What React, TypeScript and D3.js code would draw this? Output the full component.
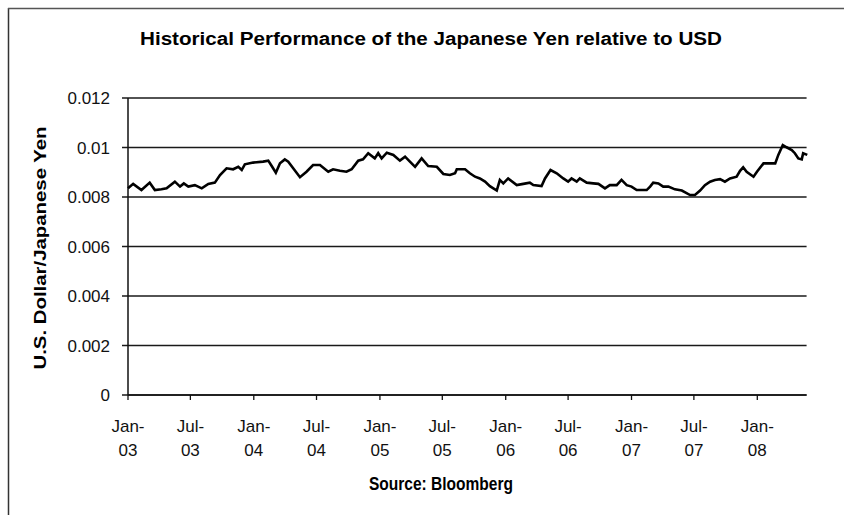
import React from "react";
import * as d3 from "d3";

const dates: string[] = [
  "2003-01-01","2003-01-16","2003-02-09","2003-03-05","2003-03-20","2003-04-08","2003-04-23","2003-05-17","2003-06-01","2003-06-12",
  "2003-06-25","2003-07-14","2003-08-03","2003-08-22","2003-09-10","2003-09-25","2003-10-14","2003-11-02","2003-11-17","2003-11-27",
  "2003-12-06","2003-12-30","2004-01-28","2004-02-12","2004-02-22","2004-03-05","2004-03-17","2004-03-31","2004-04-10","2004-05-14",
  "2004-06-02","2004-06-21","2004-07-11","2004-08-04","2004-08-18","2004-09-07","2004-09-26","2004-10-11","2004-10-30","2004-11-13",
  "2004-11-28","2004-12-17","2004-12-27","2005-01-06","2005-01-21","2005-02-09","2005-02-28","2005-03-15","2005-03-29","2005-04-13",
  "2005-05-02","2005-05-21","2005-06-15","2005-07-04","2005-07-23","2005-08-07","2005-08-12","2005-09-05","2005-09-19","2005-10-04",
  "2005-10-18","2005-11-02","2005-11-16","2005-12-06","2005-12-15","2005-12-25","2006-01-08","2006-02-02","2006-02-21","2006-03-12",
  "2006-03-22","2006-04-15","2006-04-25","2006-05-11","2006-05-29","2006-06-17","2006-07-01","2006-07-11","2006-07-26","2006-08-04",
  "2006-08-24","2006-09-12","2006-09-27","2006-10-16","2006-10-30","2006-11-19","2006-12-03","2006-12-18","2007-01-01","2007-01-16",
  "2007-02-14","2007-02-24","2007-03-05","2007-03-20","2007-04-03","2007-04-18","2007-05-07","2007-05-27","2007-06-20","2007-07-04",
  "2007-07-19","2007-08-02","2007-08-17","2007-08-31","2007-09-15","2007-09-29","2007-10-14","2007-11-02","2007-11-12","2007-11-21",
  "2007-12-01","2007-12-21","2007-12-31","2008-01-19","2008-02-08","2008-02-22","2008-03-02","2008-03-15","2008-03-26","2008-04-10",
  "2008-04-19","2008-04-29","2008-05-09","2008-05-13","2008-05-25"
];

const values: number[] = [
  0.00835,0.00853,0.00828,0.00858,0.00828,0.00831,0.00835,0.00862,0.00842,0.00855,
  0.00842,0.00848,0.00835,0.00853,0.00858,0.00889,0.00916,0.00912,0.00922,0.00909,
  0.00932,0.00939,0.00943,0.00947,0.00925,0.00898,0.00936,0.00952,0.00943,0.00880,
  0.00902,0.00929,0.00929,0.00902,0.00912,0.00906,0.00902,0.00912,0.00947,0.00952,
  0.00977,0.00956,0.00977,0.00956,0.00979,0.00970,0.00947,0.00963,0.00943,0.00922,
  0.00956,0.00925,0.00922,0.00893,0.00889,0.00896,0.00912,0.00912,0.00896,0.00882,
  0.00875,0.00862,0.00844,0.00826,0.00869,0.00855,0.00875,0.00848,0.00853,0.00858,
  0.00848,0.00844,0.00875,0.00909,0.00896,0.00875,0.00862,0.00875,0.00862,0.00875,
  0.00858,0.00855,0.00853,0.00835,0.00848,0.00848,0.00869,0.00848,0.00842,0.00828,
  0.00828,0.00842,0.00858,0.00855,0.00842,0.00842,0.00831,0.00826,0.00808,0.00808,
  0.00826,0.00848,0.00862,0.00869,0.00872,0.00862,0.00875,0.00882,0.00906,0.00920,
  0.00902,0.00882,0.00902,0.00936,0.00936,0.00936,0.00970,0.01010,0.01001,0.00990,
  0.00977,0.00956,0.00952,0.00977,0.00970
];

const yTicks: number[] = [0, 0.002, 0.004, 0.006, 0.008, 0.01, 0.012];
const yTickLabels: string[] = ["0", "0.002", "0.004", "0.006", "0.008", "0.01", "0.012"];
const xTickDates: string[] = [
  "2003-01-01","2003-07-01","2004-01-01","2004-07-01","2005-01-01","2005-07-01",
  "2006-01-01","2006-07-01","2007-01-01","2007-07-01","2008-01-01"
];
const xTickLine1: string[] = ["Jan-","Jul-","Jan-","Jul-","Jan-","Jul-","Jan-","Jul-","Jan-","Jul-","Jan-"];
const xTickLine2: string[] = ["03","03","04","04","05","05","06","06","07","07","08"];

const title = "Historical Performance of the Japanese Yen relative to USD";
const yTitle = "U.S. Dollar/Japanese Yen";
const xTitle = "Source: Bloomberg";

const W = 844;
const H = 515;
const left = 128;
const top = 98;
const bottom = 395;

const parse = d3.utcParse("%Y-%m-%d");

export default function App() {
  const x = d3
    .scaleUtc()
    .domain([parse("2003-01-01") as Date, parse("2008-01-01") as Date])
    .range([left, 757.3]);
  const xEnd = x(parse("2008-05-23") as Date);
  const y = d3.scaleLinear().domain([0, 0.012]).range([bottom, top]);

  const pts = dates.map((d, i) => [parse(d) as Date, values[i]] as [Date, number]);
  const line = d3
    .line<[Date, number]>()
    .x((d) => x(d[0]))
    .y((d) => y(d[1]));

  const font = "'Liberation Sans', Arial, sans-serif";

  return (
    <svg
      width={W}
      height={H}
      style={{ position: "absolute", left: 0, top: 0, background: "#fff" }}
      fontFamily={font}
    >
      <rect x={0} y={0} width={W} height={H} fill="#fff" />
      {/* outer frame */}
      <line x1={8.5} y1={8} x2={8.5} y2={H} stroke="#333" strokeWidth={1.5} />
      <line x1={8} y1={8.5} x2={W} y2={8.5} stroke="#555" strokeWidth={1.5} />

      {/* title */}
      <text
        x={431}
        y={45}
        textAnchor="middle"
        fontSize={18}
        fontWeight="bold"
        textLength={582}
        lengthAdjust="spacingAndGlyphs"
      >
        {title}
      </text>

      {/* gridlines */}
      {yTicks.map((t, i) => (
        <g key={"g" + i}>
          <line x1={left - 6} x2={xEnd} y1={y(t)} y2={y(t)} stroke="#1a1a1a" strokeWidth={1.3} />
          <text
            x={110}
            y={y(t) + 6}
            textAnchor="end"
            fontSize={17}
            fill="#111"
          >
            {yTickLabels[i]}
          </text>
        </g>
      ))}

      {/* axes */}
      <line x1={left} x2={left} y1={top} y2={bottom} stroke="#111" strokeWidth={1.5} />
      <line x1={left} x2={xEnd} y1={bottom} y2={bottom} stroke="#111" strokeWidth={1.5} />

      {xTickDates.map((d, i) => {
        const xx = x(parse(d) as Date);
        return (
          <g key={"x" + i}>
            <line x1={xx} x2={xx} y1={bottom} y2={bottom + 5} stroke="#111" strokeWidth={1.3} />
            <text x={xx} y={431.5} textAnchor="middle" fontSize={17} fill="#111">
              {xTickLine1[i]}
            </text>
            <text x={xx} y={456} textAnchor="middle" fontSize={17} fill="#111">
              {xTickLine2[i]}
            </text>
          </g>
        );
      })}

      {/* series */}
      <path d={line(pts) || ""} fill="none" stroke="#000" strokeWidth={2.6} strokeLinejoin="miter" />

      {/* y axis title */}
      <text
        transform={`translate(46,248) rotate(-90)`}
        textAnchor="middle"
        fontSize={17}
        fontWeight="bold"
        textLength={243}
        lengthAdjust="spacingAndGlyphs"
      >
        {yTitle}
      </text>

      {/* x axis title */}
      <text
        x={441}
        y={490}
        textAnchor="middle"
        fontSize={18.5}
        fontWeight="bold"
        textLength={144}
        lengthAdjust="spacingAndGlyphs"
      >
        {xTitle}
      </text>
    </svg>
  );
}
